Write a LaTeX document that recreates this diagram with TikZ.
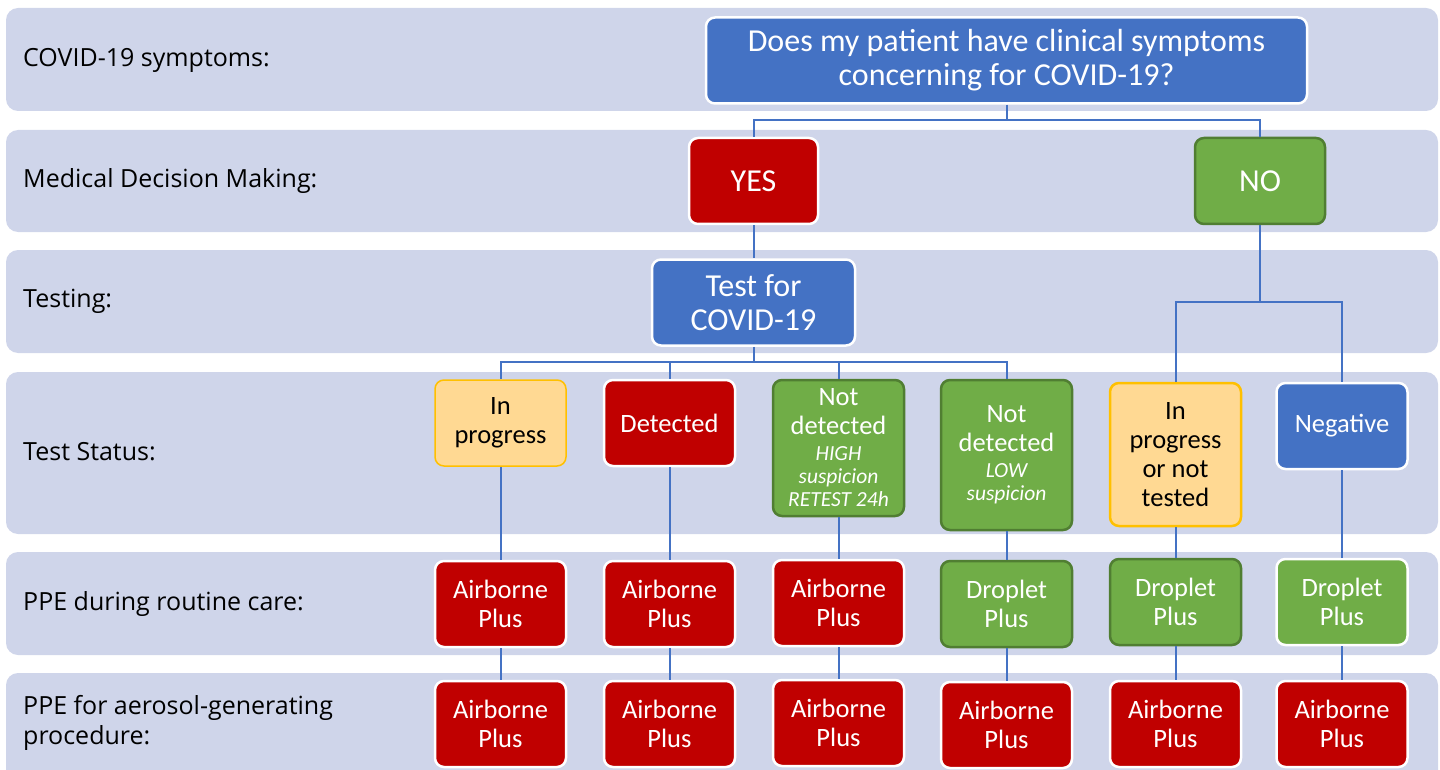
\documentclass[tikz,border=0pt]{standalone}
\usepackage{fontspec}
\setmainfont{Carlito}
\newfontfamily\lblfont{Open Sans}
\newcommand\smit{\itshape\fontsize{21.5}{23}\selectfont}
\definecolor{bandc}{HTML}{CFD5EA}
\definecolor{bblue}{HTML}{4472C4}
\definecolor{bred}{HTML}{C00000}
\definecolor{bgreen}{HTML}{70AD47}
\definecolor{dgreen}{HTML}{507E32}
\definecolor{byel}{HTML}{FFD993}
\definecolor{oyel}{HTML}{FFC000}
\definecolor{conn}{HTML}{4472C4}
\begin{document}
\begin{tikzpicture}[x=1pt,y=-1pt,
  bandbox/.style={fill=bandc, rounded corners=12pt},
  lbl/.style={anchor=west, inner sep=0pt, font=\lblfont\fontsize{25}{30}\selectfont, text=black, align=left},
  box/.style={rounded corners=9pt, line width=2.5pt, align=center, inner sep=0pt,
     minimum width=131pt, minimum height=86pt, font=\fontsize{26.5}{29}\selectfont},
  big/.style={font=\fontsize{32}{34}\selectfont},
  bluebox/.style={box, fill=bblue, draw=white, text=white},
  redbox/.style={box, fill=bred, draw=white, text=white},
  greenbox/.style={box, fill=bgreen, draw=dgreen, text=white},
  greenw/.style={box, fill=bgreen, draw=white, text=white},
  yelbox/.style={box, fill=byel, draw=oyel, text=black},
  link/.style={draw=conn, line width=2pt}
]
\useasboundingbox (0,0) rectangle (1440,770);
% bands
\fill[bandbox] (6,8) rectangle (1438,111);
\fill[bandbox] (6,130) rectangle (1438,232);
\fill[bandbox] (6,250) rectangle (1438,353);
\fill[bandbox] (6,372) rectangle (1438,534);
\fill[bandbox] (6,552) rectangle (1438,655);
\fill[bandbox] (6,673) rectangle (1438,790);
% row labels
\node[lbl] (l1) at (23,60) {COVID-19 symptoms:};
\node[lbl] (l2) at (23,181) {Medical Decision Making:};
\node[lbl] (l3) at (23,301) {Testing:};
\node[lbl] (l4) at (23,452) {Test Status:};
\node[lbl] (l5) at (23,604) {PPE during routine care:};
\node[lbl] (l6) at (23,723) {PPE for aerosol-generating\\procedure:};
% top
\node[bluebox, big, minimum width=601pt, minimum height=86pt] (q) at (1006.5,60.5) {Does my patient have clinical symptoms\\concerning for COVID-19?};
\node[redbox, big, minimum width=129pt] (yes) at (753.5,181) {YES};
\node[greenbox, big, minimum width=130pt] (no) at (1260,181) {NO};
\node[bluebox, big, minimum width=203pt, minimum height=86pt] (test) at (753.5,302.5) {Test for\\COVID-19};
% status
\node[yelbox, line width=1.5pt] (s1) at (500.5,423) {In\\progress};
\node[redbox] (s2) at (669.5,423) {Detected};
\node[greenbox, minimum height=136pt] (s3) at (838.5,448) {Not\\detected\\[-3pt]{\smit HIGH}\\[-6pt]{\smit suspicion}\\[-6pt]{\smit RETEST 24h}};
\node[greenbox, minimum height=150pt] (s4) at (1006.5,455) {Not\\detected\\[-3pt]{\smit LOW}\\[-6pt]{\smit suspicion}};
\node[yelbox, minimum height=143pt] (s5) at (1175.5,454.5) {In\\progress\\or not\\tested};
\node[bluebox, minimum height=86pt] (s6) at (1342,426) {Negative};
% routine
\node[redbox] (r1) at (500.5,604) {Airborne\\Plus};
\node[redbox] (r2) at (669.5,604) {Airborne\\Plus};
\node[redbox] (r3) at (838.5,603) {Airborne\\Plus};
\node[greenbox] (r4) at (1006.5,604) {Droplet\\Plus};
\node[greenbox] (r5) at (1175.5,602) {Droplet\\Plus};
\node[greenw] (r6) at (1342,602) {Droplet\\Plus};
% aerosol
\node[redbox] (a1) at (500.5,724) {Airborne\\Plus};
\node[redbox] (a2) at (669.5,724) {Airborne\\Plus};
\node[redbox] (a3) at (838.5,723) {Airborne\\Plus};
\node[redbox] (a4) at (1006.5,725) {Airborne\\Plus};
\node[redbox] (a5) at (1175.5,724) {Airborne\\Plus};
\node[redbox] (a6) at (1342,724) {Airborne\\Plus};
% connectors
\draw[link] (q.south) -- (q.south |- 0,120) -| (yes.north);
\draw[link] (q.south |- 0,120) -| (no.north);
\draw[link] (yes.south) -- (test.north);
\draw[link] (test.south) -- (test.south |- 0,362) -| (s1.north);
\draw[link] (test.south |- 0,362) -| (s2.north);
\draw[link] (test.south |- 0,362) -| (s3.north);
\draw[link] (test.south |- 0,362) -| (s4.north);
\draw[link] (no.south) -- (no.south |- 0,302) coordinate (nj);
\draw[link] (nj) -| (s5.north);
\draw[link] (nj) -| (s6.north);
\foreach \i in {1,...,6}{
  \draw[link] (s\i.south) -- (r\i.north);
  \draw[link] (r\i.south) -- (a\i.north);
}
\end{tikzpicture}
\end{document}
